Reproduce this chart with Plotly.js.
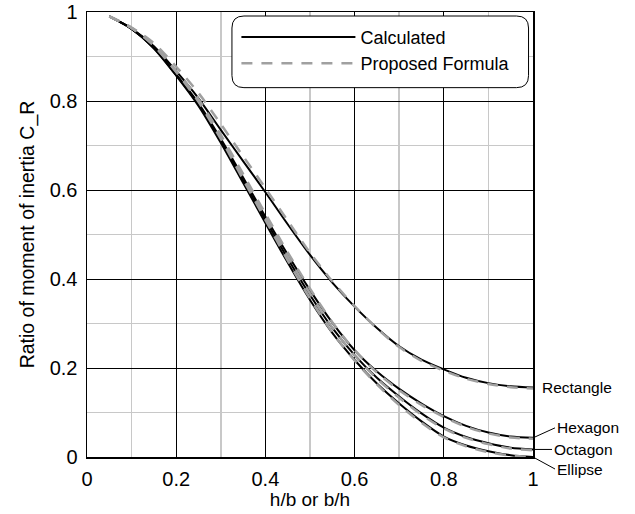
<!DOCTYPE html>
<html>
<head>
<meta charset="utf-8">
<script src="https://cdn.plot.ly/plotly-3.0.1.min.js"></script>
<style>html,body{margin:0;padding:0;background:#fff;}#chart{width:635px;height:514px;}</style>
</head>
<body>
<div id="chart"></div>
<script>
// Aspect ratio h/b or b/h
const ratio = [0.05,0.1,0.15,0.2,0.25,0.3,0.35,0.4,0.45,0.5,0.55,0.6,0.65,0.7,0.75,0.8,0.85,0.9,0.95,1.0];

// Calculated C_R
const calcRectangle = [0.99,0.963,0.923,0.867,0.806,0.735,0.665,0.595,0.523,0.454,0.392,0.338,0.290,0.249,0.219,0.197,0.178,0.166,0.159,0.156];
const calcHexagon   = [0.99,0.962,0.920,0.860,0.795,0.715,0.628,0.540,0.455,0.375,0.302,0.240,0.192,0.153,0.120,0.092,0.070,0.055,0.046,0.043];
const calcOctagon   = [0.99,0.962,0.919,0.858,0.792,0.710,0.622,0.533,0.446,0.364,0.290,0.229,0.178,0.136,0.098,0.066,0.045,0.031,0.021,0.017];
const calcEllipse   = [0.99,0.962,0.918,0.857,0.789,0.706,0.616,0.526,0.437,0.353,0.279,0.218,0.165,0.120,0.080,0.046,0.026,0.013,0.004,0.000];

// Proposed formula C_R
const propRectangle = [0.99,0.965,0.930,0.877,0.818,0.748,0.676,0.604,0.531,0.459,0.395,0.339,0.289,0.247,0.216,0.194,0.176,0.164,0.157,0.154];
const propHexagon   = [0.99,0.964,0.926,0.868,0.804,0.724,0.636,0.547,0.460,0.378,0.303,0.240,0.190,0.150,0.117,0.090,0.068,0.053,0.044,0.041];
const propOctagon   = [0.99,0.964,0.925,0.866,0.801,0.719,0.630,0.540,0.451,0.367,0.291,0.228,0.176,0.133,0.095,0.064,0.043,0.029,0.019,0.015];
const propEllipse   = [0.99,0.964,0.924,0.865,0.798,0.715,0.624,0.533,0.442,0.356,0.280,0.217,0.163,0.117,0.077,0.044,0.024,0.011,0.003,0.000];

const shapeNames = ['Rectangle','Hexagon','Octagon','Ellipse'];
const calcSeries = [calcRectangle, calcHexagon, calcOctagon, calcEllipse];
const propSeries = [propRectangle, propHexagon, propOctagon, propEllipse];

const FONT = 'Liberation Sans, Arial, sans-serif';
const traces = [];
calcSeries.forEach((ys, i) => {
  traces.push({
    x: ratio, y: ys, type: 'scatter', mode: 'lines',
    name: 'Calculated', legendgroup: 'calc', showlegend: i === 0,
    line: {color: '#000000', width: 2, shape: 'spline', smoothing: 0.8},
    hoverinfo: 'skip'
  });
});
propSeries.forEach((ys, i) => {
  traces.push({
    x: ratio, y: ys, type: 'scatter', mode: 'lines',
    name: 'Proposed Formula', legendgroup: 'prop', showlegend: i === 0,
    line: {color: '#a0a0a0', width: 2.5, dash: '11px,9px', shape: 'spline', smoothing: 0.8},
    hoverinfo: 'skip'
  });
});

// End labels
const labelOffsets = {
  Rectangle: {ax: 7, ay: 0, arrow: false},
  Hexagon:   {ax: 22, ay: -10, arrow: true},
  Octagon:   {ax: 19, ay: 0, arrow: true},
  Ellipse:   {ax: 22, ay: 12, arrow: true}
};
const annotations = shapeNames.map((nm, i) => {
  const o = labelOffsets[nm];
  const yv = calcSeries[i][calcSeries[i].length - 1];
  const xv = ratio[ratio.length - 1];
  if (!o.arrow) {
    return {x: xv, y: yv, xref: 'x', yref: 'y', text: nm, showarrow: false,
            xanchor: 'left', yanchor: 'middle', xshift: o.ax,
            font: {family: FONT, size: 15.5, color: '#000'}};
  }
  return {x: xv, y: yv, xref: 'x', yref: 'y', text: nm, showarrow: true,
          arrowhead: 0, arrowwidth: 1, arrowcolor: '#000', ax: o.ax, ay: o.ay,
          xanchor: 'left', yanchor: 'middle', standoff: 2,
          font: {family: FONT, size: 15.5, color: '#000'}};
});

// rounded legend box (paper coords)
function roundedRect(x0, y0, x1, y1, rx, ry) {
  return `M${x0+rx},${y0} L${x1-rx},${y0} Q${x1},${y0} ${x1},${y0+ry} L${x1},${y1-ry} Q${x1},${y1} ${x1-rx},${y1} L${x0+rx},${y1} Q${x0},${y1} ${x0},${y1-ry} L${x0},${y0+ry} Q${x0},${y0} ${x0+rx},${y0} Z`;
}
const rx = 12/446, ry = 12/445;

const layout = {
  width: 635, height: 514,
  margin: {l: 87, r: 102, t: 12, b: 57},
  paper_bgcolor: '#ffffff', plot_bgcolor: '#ffffff',
  font: {family: FONT, size: 18, color: '#000'},
  showlegend: true,
  legend: {
    x: 0.335, y: 0.985, xanchor: 'left', yanchor: 'top',
    bgcolor: 'rgba(0,0,0,0)', borderwidth: 0,
    font: {family: FONT, size: 18, color: '#000'},
    itemwidth: 114, tracegroupgap: 0
  },
  xaxis: {
    range: [0, 1], dtick: 0.2, tick0: 0,
    showgrid: true, gridcolor: '#000000', gridwidth: 1,
    showline: true, linecolor: '#000', linewidth: 1.5, mirror: true,
    zeroline: false, ticks: '', ticklen: 0, ticklabelstandoff: 3,
    tickfont: {family: FONT, size: 20},
    minor: {dtick: 0.1, tick0: 0, showgrid: true, gridcolor: '#c8c8c8', gridwidth: 1.5, ticks: ''},
    title: {text: 'h/b or b/h', font: {family: FONT, size: 19}, standoff: 0}
  },
  yaxis: {
    range: [0, 1], dtick: 0.2, tick0: 0,
    showgrid: true, gridcolor: '#000000', gridwidth: 1,
    showline: true, linecolor: '#000', linewidth: 1.5, mirror: true,
    zeroline: false, ticks: '', ticklen: 0, ticklabelstandoff: 4,
    tickfont: {family: FONT, size: 20},
    minor: {dtick: 0.1, tick0: 0, showgrid: true, gridcolor: '#c8c8c8', gridwidth: 1.5, ticks: ''},
    title: {text: 'Ratio of moment of inertia C_R', font: {family: FONT, size: 19.5}, standoff: 10}
  },
  shapes: [{
    type: 'path', xref: 'paper', yref: 'paper', layer: 'above',
    path: roundedRect(0.325, 0.830, 0.99, 0.991, rx, ry),
    fillcolor: 'rgba(255,255,255,1)', line: {color: '#000', width: 1}
  }],
  annotations: annotations
};

Plotly.newPlot('chart', traces, layout, {staticPlot: true, displayModeBar: false});
</script>
</body>
</html>
